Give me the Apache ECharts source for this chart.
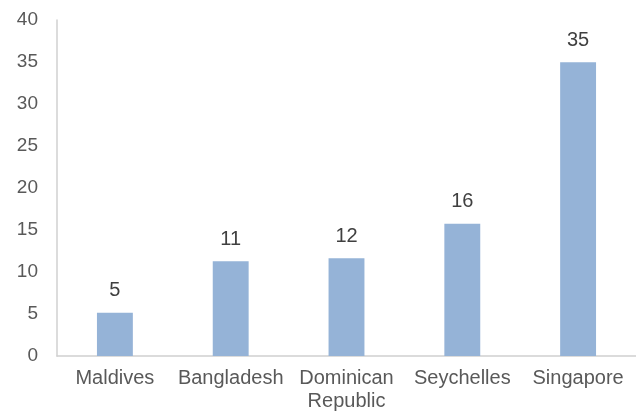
<!DOCTYPE html>
<html>
<head>
<meta charset="utf-8">
<script src="https://cdn.jsdelivr.net/npm/echarts@6/dist/echarts.min.js"></script>
<style>
  html, body { margin: 0; padding: 0; background: #fff; }
  #chart { width: 636px; height: 417px; }
</style>
</head>
<body>
<div id="chart"></div>
<script>
const categories = ['Maldives', 'Bangladesh', 'Dominican\nRepublic', 'Seychelles', 'Singapore']
const values = [5.15, 11.27, 11.63, 15.75, 34.96]
const yTicks = { min: 0, max: 40, interval: 5 }

const chart = echarts.init(document.getElementById('chart'))

chart.setOption({
  animation: false,
  textStyle: { fontFamily: 'Liberation Sans, Arial, sans-serif' },
  grid: { left: 57, right: 0, top: 20, bottom: 61 },
  xAxis: {
    type: 'category',
    data: categories,
    axisLine: { lineStyle: { color: '#d0d0d0', width: 1.5 } },
    axisTick: { show: false },
    axisLabel: { color: '#595959', fontSize: 20, margin: 11, lineHeight: 23, interval: 0 },
  },
  yAxis: {
    type: 'value',
    min: yTicks.min,
    max: yTicks.max,
    interval: yTicks.interval,
    axisLine: { show: true, lineStyle: { color: '#d0d0d0', width: 1.5 } },
    axisTick: { show: false },
    splitLine: { show: false },
    axisLabel: { color: '#595959', fontSize: 19, margin: 19 },
  },
  series: [
    {
      type: 'bar',
      data: values,
      barWidth: '31%',
      itemStyle: { color: '#95b3d7' },
      label: {
        show: true,
        position: 'top',
        distance: 12,
        color: '#404040',
        fontSize: 20,
        formatter: (p) => Math.round(p.value),
      },
    },
  ],
})
</script>
</body>
</html>
